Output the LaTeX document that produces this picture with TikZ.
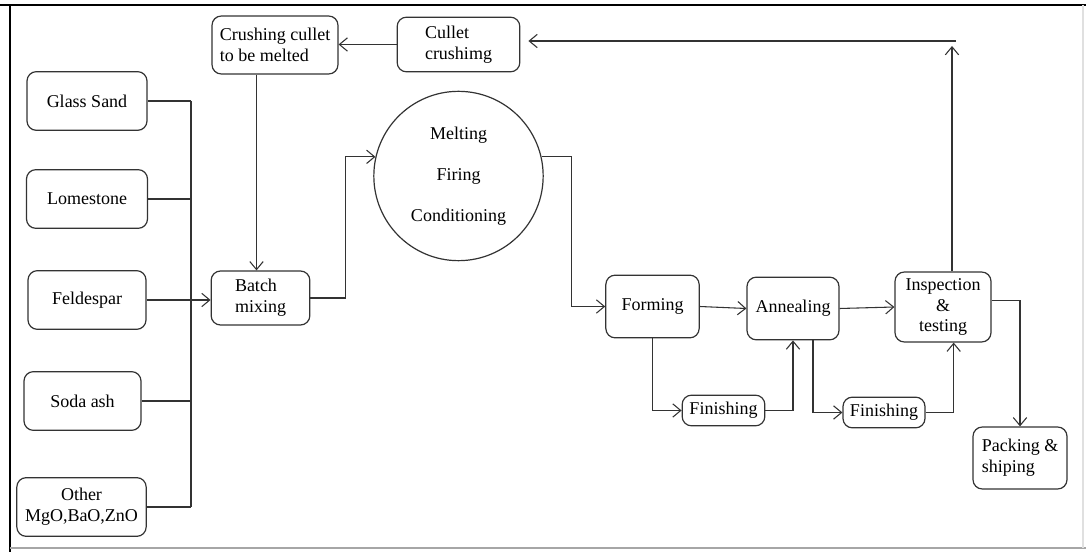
\documentclass[tikz,border=0pt]{standalone}
\usepackage{fontspec}
\setmainfont{Liberation Serif}
\usetikzlibrary{arrows.meta,positioning,calc}

\begin{document}
\begin{tikzpicture}[x=0.75pt, y=-0.75pt,
  every node/.style={font=\fontsize{13.5}{15.5}\selectfont},
  box/.style={draw=black!80, line width=0.9pt, rounded corners=7pt, inner sep=0pt},
  wire/.style={draw=black!80, line width=0.8pt},
  arr/.style={wire, -{Straight Barb[length=6pt,width=10pt]}}]
\useasboundingbox (0,0) rectangle (1086,552);
% Frame
\draw[line width=2.2pt] (0,5) -- (1086,5);
\draw[line width=1.5pt] (10,5) -- (10,552);
\draw[black!35, line width=1.5pt] (10,548) -- (1086,548);
\draw[black!12, line width=0.8pt] (1083,5) -- (1083,548);
% Raw materials
\foreach \n/\x/\y/\w/\txt in {sand/87/101/120/Glass Sand, lime/87/199/121/Lomestone, feld/87/300/118/Feldespar, soda/82.5/401/117/Soda ash} {
  \node[box, minimum width=\w*0.75pt, minimum height=44pt] (\n) at (\x,\y) {\txt};
}
\node[box, minimum width=97pt, minimum height=44pt, align=center] (other) at (81.5,507) {Other\\MgO,BaO,ZnO};
% Process steps
\node[box, minimum width=94.5pt, minimum height=43.5pt, align=left] (crush) at (275,45) {Crushing cullet\\to be melted};
\node[box, minimum width=92pt, minimum height=41pt, align=left] (cullet) at (458.5,44.5) {Cullet\\crushimg};
\node[box, minimum width=74pt, minimum height=40.5pt, align=left] (batch) at (260.5,298) {Batch\\mixing};
\node[circle, draw=black!80, line width=0.9pt, minimum size=127pt, align=center,
  font=\fontsize{13.5}{30.75}\selectfont] (melt) at (458.5,176) {Melting\\Firing\\Conditioning};
\node[box, minimum width=70pt, minimum height=47pt] (form) at (652.5,306.5) {Forming};
\node[box, minimum width=69pt, minimum height=47pt] (anneal) at (793,308.5) {Annealing};
\node[box, minimum width=72pt, minimum height=52.5pt, align=center] (insp) at (943,307) {Inspection\\\&\\testing};
\node[box, minimum width=62pt, minimum height=23pt] (fin1) at (723.5,410.5) {Finishing};
\node[box, minimum width=61.5pt, minimum height=23pt] (fin2) at (884,412.5) {Finishing};
\node[box, minimum width=70.5pt, minimum height=46.5pt, align=left] (pack) at (1020,458) {Packing \&\\shiping};
% Collecting line
\coordinate (bus) at (191,300);
\foreach \n in {sand, lime, soda, other}
  \draw[wire] (\n.east) -- (\n.east -| bus);
\draw[wire] (sand.east -| bus) -- (other.east -| bus);
\draw[arr] (feld.east) -- (feld.east -| batch.west);
% Main flow
\draw[arr] ([xshift=-3pt]batch.north |- crush.south) -- ([xshift=-3pt]batch.north);
\draw[arr] (cullet.west) -- (cullet.west -| crush.east);
\draw[arr] (batch.east) -- ++(35,0) |- (melt.167);
\draw[arr] (melt.13) -| ++(30,0) |- (form.west);
\draw[arr] (form.east) -- (anneal.west);
\draw[arr] (anneal.east) -- (insp.west);
\draw[arr] (form.south) |- (fin1.west);
\draw[arr] (fin1.east) -| (anneal.south);
\draw[arr] ([xshift=15pt]anneal.south) |- (fin2.west);
\draw[arr] (fin2.east) -| ([xshift=8pt]insp.south);
\draw[arr] ([yshift=5pt]insp.east) -| (pack.north);
% Return of cullet
\coordinate (up) at (952,46);
\coordinate (back) at (956,41);
\draw[arr] (insp.north -| up) -- (up);
\draw[arr] (back) -- ([xshift=6pt]back -| cullet.east);
\end{tikzpicture}
\end{document}
